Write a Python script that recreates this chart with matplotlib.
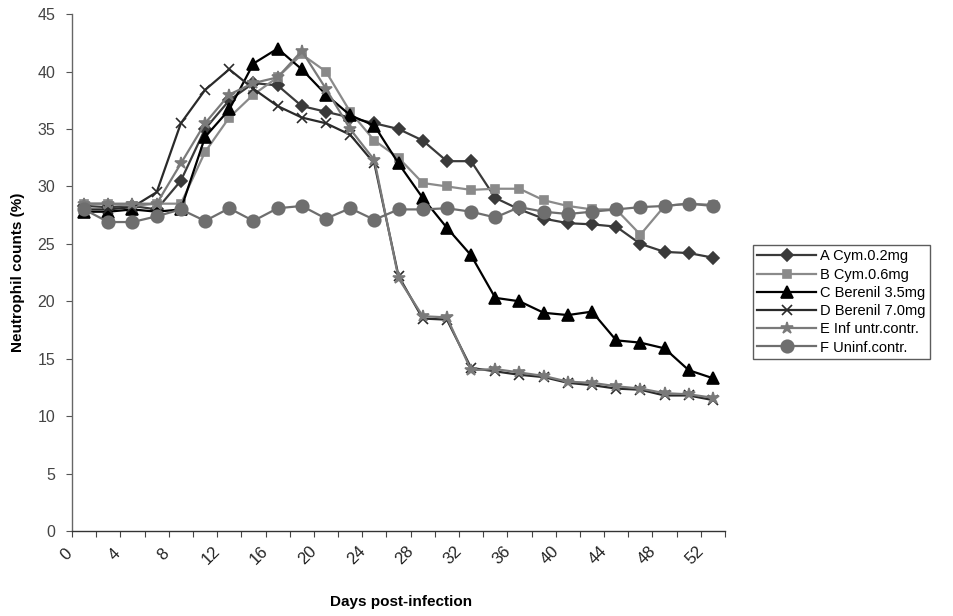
import matplotlib
matplotlib.use("Agg")
import matplotlib.pyplot as plt
import matplotlib.transforms as mtransforms
import numpy as np

plt.rcParams['font.family'] = ['Liberation Sans', 'DejaVu Sans']

days = list(range(0, 53, 2))
x_label_days = list(range(0, 53, 4))
x_tick_labels = [str(d) for d in x_label_days]
y_ticks = [0, 5, 10, 15, 20, 25, 30, 35, 40, 45]

series_names = ["A Cym.0.2mg", "B Cym.0.6mg", "C Berenil 3.5mg",
                "D Berenil 7.0mg", "E Inf untr.contr.", "F Uninf.contr."]

A_cym_02 = [28.3, 28.2, 28.3, 28.0, 30.5, 35.0, 37.5, 39.0, 38.8, 37.0, 36.5, 36.0, 35.5, 35.0,
            34.0, 32.2, 32.2, 29.0, 28.0, 27.2, 26.8, 26.7, 26.5, 25.0, 24.3, 24.2, 23.8]
B_cym_06 = [28.5, 28.5, 28.3, 28.5, 28.5, 33.0, 36.0, 38.0, 39.5, 41.5, 40.0, 36.5, 34.0, 32.5,
            30.3, 30.0, 29.7, 29.8, 29.8, 28.8, 28.3, 28.0, 28.0, 25.8, 28.3, 28.5, 28.4]
C_ber_35 = [27.8, 27.8, 28.0, 27.8, 28.0, 34.3, 36.7, 40.7, 42.0, 40.2, 38.0, 36.2, 35.3, 32.0,
            29.0, 26.4, 24.0, 20.3, 20.0, 19.0, 18.8, 19.1, 16.6, 16.4, 15.9, 14.0, 13.3]
D_ber_70 = [28.0, 28.0, 28.2, 29.5, 35.5, 38.4, 40.2, 38.5, 37.0, 36.0, 35.5, 34.5, 32.0, 22.2,
            18.5, 18.4, 14.2, 13.9, 13.6, 13.4, 12.9, 12.7, 12.4, 12.3, 11.8, 11.8, 11.4]
E_inf_untr = [28.5, 28.5, 28.5, 28.5, 32.0, 35.5, 38.0, 39.0, 39.5, 41.8, 38.5, 35.0, 32.3, 22.0,
              18.7, 18.6, 14.0, 14.1, 13.8, 13.5, 13.0, 12.9, 12.6, 12.4, 12.0, 11.9, 11.6]
F_uninf = [28.0, 26.9, 26.9, 27.4, 28.0, 27.0, 28.1, 27.0, 28.1, 28.3, 27.2, 28.1, 27.1, 28.0,
           28.0, 28.1, 27.8, 27.3, 28.2, 27.8, 27.6, 27.8, 28.0, 28.2, 28.3, 28.5, 28.3]

all_series = [A_cym_02, B_cym_06, C_ber_35, D_ber_70, E_inf_untr, F_uninf]
markers = ['D', 's', '^', 'x', '*', 'o']
colors = ['#3a3a3a', '#8a8a8a', '#000000', '#2a2a2a', '#7a7a7a', '#6e6e6e']
msizes = [6, 6, 8, 7, 9, 9]

fig = plt.figure(figsize=(9.54, 6.16), dpi=100)
ax = fig.add_axes([0.0755, 0.138, 0.6845, 0.839])

for name, vals, m, c, ms in zip(series_names, all_series, markers, colors, msizes):
    ax.plot(days, vals, color=c, marker=m, markersize=ms, linewidth=1.6,
            markeredgecolor=c, markerfacecolor=c, markeredgewidth=1.2, label=name)

ax.set_xlim(-1, 53)
ax.set_ylim(0, 45)
ax.set_yticks(y_ticks)
ax.set_yticklabels([str(v) for v in y_ticks], fontsize=11.5, color='#444444')

# category-style x axis: tick marks between categories, labels under every other category
ax.set_xticks(np.arange(-1, 54, 2))
ax.set_xticklabels([])
ax.tick_params(axis='x', which='major', length=4, color='#444444', direction='out')
ax.tick_params(axis='y', which='major', length=4, color='#555555', pad=8)

lab_tr = ax.get_xaxis_transform() + mtransforms.ScaledTranslation(-18 / 100, -24 / 100,
                                                                  fig.dpi_scale_trans)
for d, t in zip(x_label_days, x_tick_labels):
    ax.text(d, 0, t, transform=lab_tr, rotation=45, ha='center', va='center',
            fontsize=12, color='#222222')

for s in ['top', 'right']:
    ax.spines[s].set_visible(False)
ax.spines['left'].set_color('#666666')
ax.spines['left'].set_linewidth(1.0)
ax.spines['left'].set_linestyle((0, (1, 1)))
ax.spines['bottom'].set_color('#333333')
ax.spines['bottom'].set_linewidth(1.0)

ax.set_ylabel("Neutrophil counts (%)", fontsize=11, fontweight='bold', labelpad=9)
fig.text(401 / 954, 1 - 602 / 616, "Days post-infection", fontsize=11, fontweight='bold',
         ha='center', va='center')

leg = fig.legend(loc='upper left', bbox_to_anchor=(753 / 954, 1 - 245 / 616),
                 fontsize=10.5, frameon=True, fancybox=False, edgecolor='#333333',
                 handlelength=4.0, handletextpad=0.3, labelspacing=0.29,
                 borderpad=0.3, borderaxespad=0)
leg.get_frame().set_linewidth(1.0)

fig.savefig("out.png", dpi=100)
